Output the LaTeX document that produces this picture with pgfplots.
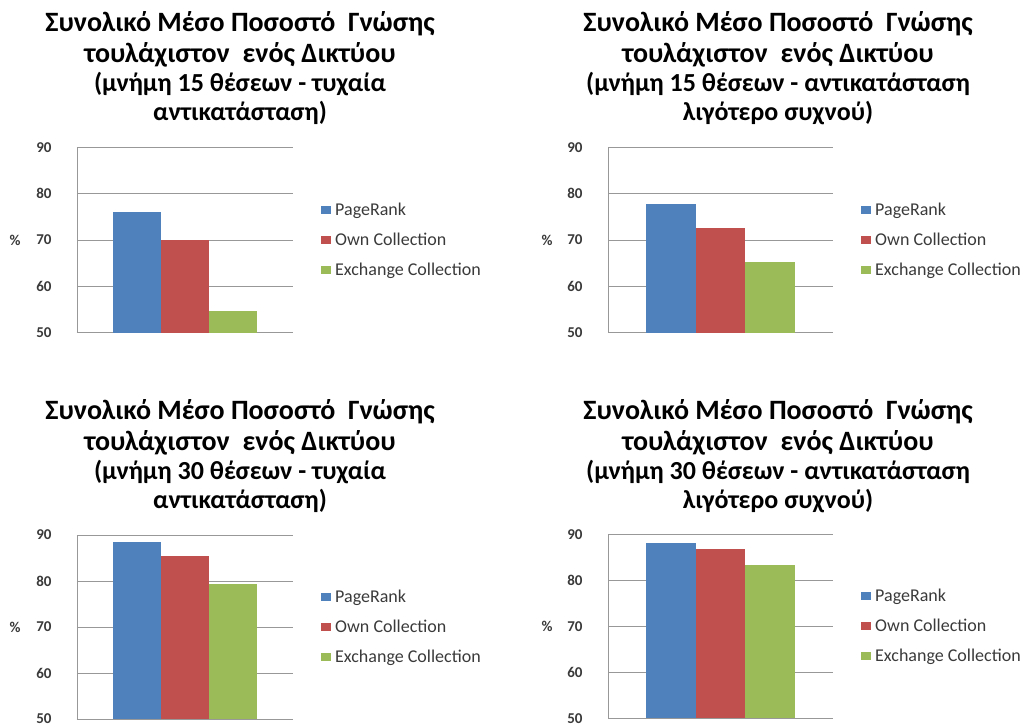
\documentclass[border=0pt]{standalone}
\usepackage{fontspec}
\setmainfont{Carlito}
\usepackage{pgfplots}
\pgfplotsset{compat=1.18}

\definecolor{prblue}{HTML}{4F81BD}
\definecolor{ocred}{HTML}{C0504D}
\definecolor{ecgreen}{HTML}{9BBB59}
\definecolor{gridgray}{HTML}{989898}
\definecolor{tickcol}{HTML}{3A3A3A}

\newcommand{\bigtitle}{\fontsize{28}{28}\selectfont\bfseries}
\newcommand{\smalltitle}{\fontsize{26}{26}\selectfont\bfseries}

\pgfplotsset{
  panel/.style={
    scale only axis, width=216pt, height=185.4pt,
    ymin=50, ymax=90, ytick={50,60,70,80,90},
    xmin=-1, xmax=1, xtick=\empty,
    ybar=0pt, bar width=48pt,
    axis x line*=bottom, axis y line*=left,
    axis line style={draw=gridgray, line width=0.8pt, -},
    ymajorgrids, grid style={draw=gridgray, line width=0.8pt},
    major tick length=0pt,
    /pgf/number format/assume math mode=true,
    yticklabel style={font=\fontsize{15}{15}\selectfont\bfseries, text=tickcol, xshift=-22pt},
    legend style={at={(rel axis cs:1,0.5)}, anchor=west, xshift=28pt,
      draw=none, fill=none, inner sep=0pt,
      font=\fontsize{18}{18}\selectfont, text=tickcol,
      row sep=14pt, nodes={inner sep=1pt},
      /tikz/every odd column/.append style={column sep=3pt}},
    legend cell align=left,
    clip=false,
  },
  sq/.style={draw=none, fill=#1,
    legend image code/.code={\fill[#1] (0pt,-4pt) rectangle (10pt,4pt);}},
}

\begin{document}
\begin{tikzpicture}
\useasboundingbox (0pt,0pt) rectangle (1024pt,727pt);

% Top left: 15 slots, random replacement
\begin{axis}[panel, at={(77pt,394.3pt)}, anchor=south west]
  \addplot[sq=prblue] coordinates {(0,76.1)};
  \addplot[sq=ocred] coordinates {(0,70.1)};
  \addplot[sq=ecgreen] coordinates {(0,54.6)};
  \legend{PageRank, Own Collection, Exchange Collection}
  \node[font=\fontsize{15}{15}\selectfont\bfseries, text=tickcol] at (rel axis cs:0,0.5) [xshift=-62pt] {\%};
\end{axis}

% Top right: 15 slots, least frequent replacement
\begin{axis}[panel, width=225pt, at={(608pt,394.3pt)}, anchor=south west, bar width=49.5pt]
  \addplot[sq=prblue] coordinates {(0,77.8)};
  \addplot[sq=ocred] coordinates {(0,72.6)};
  \addplot[sq=ecgreen] coordinates {(0,65.3)};
  \legend{PageRank, Own Collection, Exchange Collection}
  \node[font=\fontsize{15}{15}\selectfont\bfseries, text=tickcol] at (rel axis cs:0,0.5) [xshift=-61pt] {\%};
\end{axis}

% Bottom left: 30 slots, random replacement
\begin{axis}[panel, at={(77pt,8pt)}, anchor=south west, height=184pt]
  \addplot[sq=prblue] coordinates {(0,88.4)};
  \addplot[sq=ocred] coordinates {(0,85.5)};
  \addplot[sq=ecgreen] coordinates {(0,79.4)};
  \legend{PageRank, Own Collection, Exchange Collection}
  \node[font=\fontsize{15}{15}\selectfont\bfseries, text=tickcol] at (rel axis cs:0,0.5) [xshift=-62pt] {\%};
\end{axis}

% Bottom right: 30 slots, least frequent replacement
\begin{axis}[panel, width=225pt, at={(608pt,8.7pt)}, anchor=south west, height=184pt, bar width=49.5pt]
  \addplot[sq=prblue] coordinates {(0,88.0)};
  \addplot[sq=ocred] coordinates {(0,86.7)};
  \addplot[sq=ecgreen] coordinates {(0,83.3)};
  \legend{PageRank, Own Collection, Exchange Collection}
  \node[font=\fontsize{15}{15}\selectfont\bfseries, text=tickcol] at (rel axis cs:0,0.5) [xshift=-61pt] {\%};
\end{axis}

% Titles
\foreach \cx/\top/\linea/\lineb in {
  240/727/{(μνήμη 15 θέσεων - τυχαία}/{αντικατάσταση)},
  778/727/{(μνήμη 15 θέσεων - αντικατάσταση}/{λιγότερο συχνού)},
  240/339/{(μνήμη 30 θέσεων - τυχαία}/{αντικατάσταση)},
  778/339/{(μνήμη 30 θέσεων - αντικατάσταση}/{λιγότερο συχνού)}} {
  \node[anchor=base, font=\bigtitle] at (\cx pt,\top pt-32pt) {Συνολικό Μέσο Ποσοστό\ \ Γνώσης};
  \node[anchor=base, font=\bigtitle] at (\cx pt,\top pt-63pt) {τουλάχιστον\ \ ενός Δικτύου};
  \node[anchor=base, font=\smalltitle] at (\cx pt,\top pt-92pt) {\linea};
  \node[anchor=base, font=\smalltitle] at (\cx pt,\top pt-121pt) {\lineb};
}
\end{tikzpicture}
\end{document}
